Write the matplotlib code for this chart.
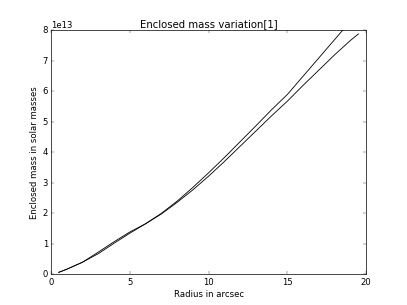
import matplotlib
matplotlib.use('Agg')
import matplotlib.pyplot as plt

# radius in arcsec and enclosed mass (units of 1e13 solar masses)
radius1 = [0.5, 1, 2, 3, 4, 5, 6, 7, 8, 9, 10, 11, 12, 13, 14, 15, 16, 17, 18, 19]
mass1 = [0.07, 0.17, 0.40, 0.73, 1.07, 1.39, 1.66, 2.00, 2.40, 2.85,
         3.33, 3.83, 4.35, 4.87, 5.40, 5.90, 6.50, 7.10, 7.70, 8.30]

radius2 = [0.5, 1, 2, 3, 4, 5, 6, 7, 8, 9, 10, 11, 12, 13, 14, 15, 16, 17, 18, 19, 19.5]
mass2 = [0.07, 0.17, 0.40, 0.68, 1.02, 1.35, 1.66, 1.98, 2.36, 2.77,
         3.22, 3.70, 4.20, 4.70, 5.20, 5.68, 6.20, 6.70, 7.20, 7.67, 7.88]

plt.style.use('classic')
dpi = 50.875
fig = plt.figure(figsize=(8, 6), dpi=dpi)
ax = fig.add_subplot(111)

ax.plot(radius1, [m * 1e13 for m in mass1], color='k', lw=1.2)
ax.plot(radius2, [m * 1e13 for m in mass2], color='k', lw=1.2)

ax.set_xlim(0, 20)
ax.set_ylim(0, 8e13)
ax.set_xlabel('Radius in arcsec')
ax.set_ylabel('Enclosed mass in solar masses')
ax.set_title('Enclosed mass variation[1]')

fig.savefig('out.png', dpi=dpi)
